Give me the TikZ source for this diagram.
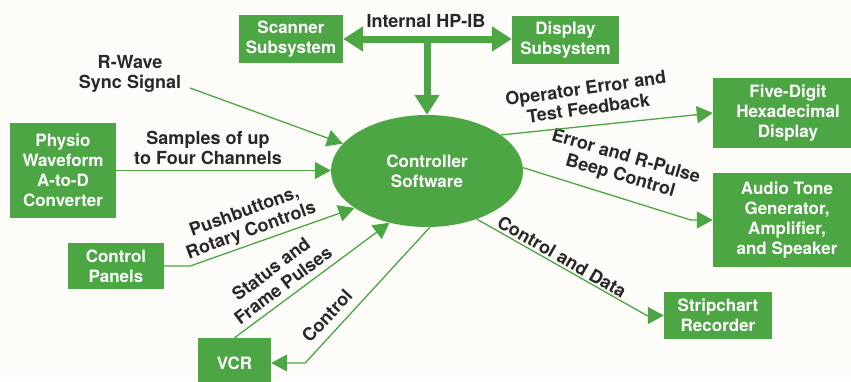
\documentclass[tikz,border=0pt]{standalone}
\usepackage{fontspec}
\setmainfont{TeX Gyre Heros}
\usetikzlibrary{shapes.geometric,arrows.meta}
\definecolor{hpgreen}{RGB}{76,166,68}
\definecolor{ink}{RGB}{40,40,40}
\definecolor{paper}{RGB}{253,252,248}

\begin{document}
\begin{tikzpicture}[x=1pt, y=-1pt,
    box/.style={fill=hpgreen, text=white, align=center, inner sep=0pt,
                font=\bfseries\fontsize{17}{20}\selectfont},
    lbl/.style={text=ink, align=center, inner sep=0pt,
                font=\bfseries\fontsize{18}{20}\selectfont},
    link/.style={draw=hpgreen, line width=1.3pt,
                 >={Triangle[length=16pt,width=17pt]}, ->},
    bus/.style={draw=hpgreen, line width=7pt,
                >={Triangle[length=20pt,width=24pt]}}]
  \fill[paper] (0,0) rectangle (851,381);
  \useasboundingbox (0,0) rectangle (851,381);

  \node[ellipse, fill=hpgreen, text=white, align=center, inner sep=0pt,
        minimum width=192pt, minimum height=112pt,
        font=\bfseries\fontsize{17}{20}\selectfont] (ctrl) at (427,171) {Controller\\Software};

  \node[box, minimum width=104pt, minimum height=48pt] (scan) at (291,39) {Scanner\\Subsystem};
  \node[box, minimum width=107pt, minimum height=48pt] (disp) at (565.5,40) {Display\\Subsystem};
  \node[box, minimum width=150pt, minimum height=70pt] (hex) at (788,113) {Five-Digit\\Hexadecimal\\Display};
  \node[box, minimum width=148pt, minimum height=94pt] (audio) at (787,220) {Audio Tone\\Generator,\\Amplifier,\\and Speaker};
  \node[box, minimum width=108pt, minimum height=47pt] (strip) at (718,315.5) {Stripchart\\Recorder};
  \node[box, minimum width=73pt, minimum height=50pt] (vcr) at (234.5,363) {VCR};
  \node[box, minimum width=96pt, minimum height=46pt] (panel) at (116,266) {Control\\Panels};
  \node[box, minimum width=106pt, minimum height=95pt] (physio) at (63,170.5) {Physio\\Waveform\\A-to-D\\Converter};

  \node[lbl] (hpib) at (426,21) {Internal HP-IB};
  \node[lbl] (rwave) at (130,74) {R-Wave\\Sync Signal};
  \node[lbl] (samples) at (208,148) {Samples of up\\to Four Channels};
  \node[lbl, rotate=20] (pushl) at (248,222) {Pushbuttons,\\Rotary Controls};
  \node[lbl, rotate=37] (statl) at (277,277) {Status and\\Frame Pulses};
  \node[lbl, rotate=47] (vctl) at (327,316) {Control};
  \node[lbl, rotate=8] (operl) at (587,98) {Operator Error and\\Test Feedback};
  \node[lbl, rotate=-16] (beepl) at (623,167) {Error and R-Pulse\\Beep Control};
  \node[lbl, rotate=-30] (datal) at (562,257) {Control and Data};

  \coordinate (hub) at (427,39);
  \coordinate (rwin) at (190,88);

  \draw[bus, <->] (scan.east) -- (scan.east -| disp.west);
  \draw[bus, ->] (hub) -- (ctrl.north);

  \draw[link] (rwin) -- (ctrl.162);
  \draw[link] (physio.east) -- (physio.east -| ctrl.west);
  \draw[link] (panel.east) -- ++(26,0) -- (ctrl.207);
  \draw[link] (vcr.north) -- (ctrl.234);
  \draw[link] (ctrl.273) -- ([xshift=34pt]vcr.east) -- (vcr.east);
  \draw[link] (ctrl.26) -- (hex.west);
  \draw[link] (ctrl.2) -- ([xshift=-22pt]audio.west) -- (audio.west);
  \draw[link] (ctrl.316) -- ([xshift=-17pt]strip.west) -- (strip.west);
\end{tikzpicture}
\end{document}
